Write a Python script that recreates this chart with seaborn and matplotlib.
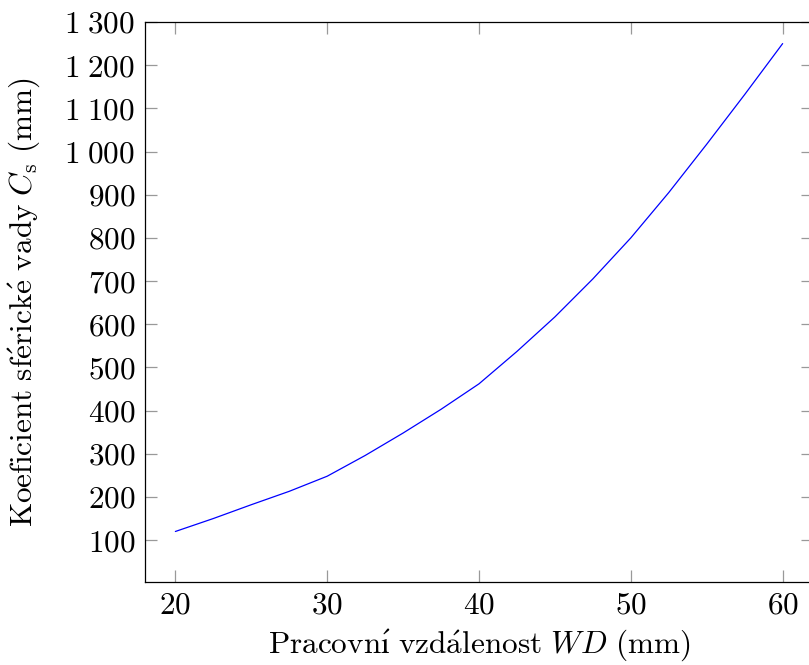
import matplotlib
matplotlib.use("Agg")
import matplotlib.pyplot as plt
import matplotlib.ticker as mticker
import seaborn as sns
import pandas as pd

wd_mm = [20, 22.5, 25, 27.5, 30, 32.5, 35, 37.5, 40, 42.5, 45, 47.5, 50, 52.5, 55, 57.5, 60]
cs_mm = [120, 150, 182, 213, 248, 296, 348, 403, 462, 537, 617, 705, 800, 905, 1017, 1132, 1250]

x_ticks = [20, 30, 40, 50, 60]
y_ticks = [100, 200, 300, 400, 500, 600, 700, 800, 900, 1000, 1100, 1200, 1300]

sns.set_theme(style="ticks")
plt.rcParams["mathtext.fontset"] = "cm"
plt.rcParams["font.family"] = ["cmr10", "DejaVu Serif"]
plt.rcParams["axes.formatter.use_mathtext"] = True
plt.rcParams["text.color"] = "black"
plt.rcParams["axes.labelcolor"] = "black"

df = pd.DataFrame({"wd": wd_mm, "cs": cs_mm})

fig = plt.figure(figsize=(8.09, 6.65), dpi=100)
ax = fig.add_axes([145 / 809, 1 - 582 / 665, (813 - 145) / 809, (582 - 22) / 665])

sns.lineplot(data=df, x="wd", y="cs", ax=ax, color="#0000ff", linewidth=0.9)

ax.set_xlim(18, 62)
ax.set_ylim(3, 1300)
ax.set_xticks(x_ticks)
ax.set_yticks(y_ticks)


def fmt(v, pos):
    v = int(round(v))
    if v >= 1000:
        return r"$%d\;%03d$" % (v // 1000, v % 1000)
    return r"$%d$" % v


ax.yaxis.set_major_formatter(mticker.FuncFormatter(fmt))
ax.xaxis.set_major_formatter(mticker.FuncFormatter(fmt))

ax.tick_params(axis="both", which="major", direction="in", length=8.5, width=0.9,
               color="#999999", labelcolor="black", labelsize=22.5,
               top=True, right=True, pad=7)

for s in ax.spines.values():
    s.set_color("black")
    s.set_linewidth(0.9)

ax.set_xlabel(r"$\mathrm{Pracovn\acute{ı}\ vzd\acute{a}lenost}\ \mathit{WD}\ \mathrm{(mm)}$",
              fontsize=22.5, labelpad=6)
ax.set_ylabel(r"$\mathrm{Koeficient\ sf\acute{e}rick\acute{e}\ vady}\ C_{\mathrm{s}}\ \mathrm{(mm)}$",
              fontsize=22.5, labelpad=16)

fig.savefig("out.png", dpi=100)
